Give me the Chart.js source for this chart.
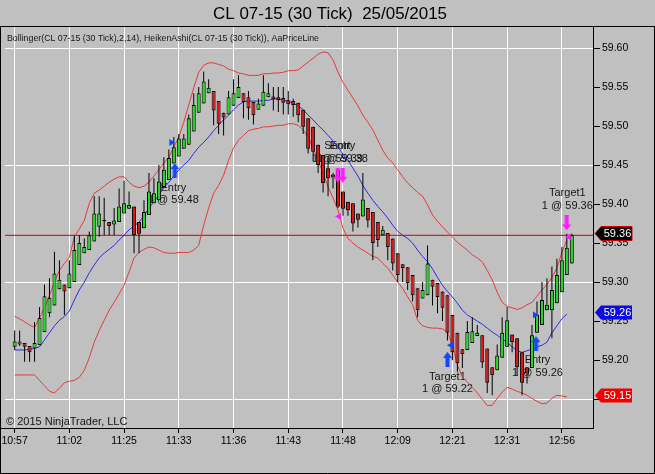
<!DOCTYPE html>
<html>
<head>
<meta charset="utf-8">
<script src="https://cdn.jsdelivr.net/npm/chart.js@4.4.1/dist/chart.umd.min.js"></script>
<style>
  html, body { margin: 0; padding: 0; background: #c0c0c0; }
  #wrap { width: 655px; height: 474px; }
</style>
</head>
<body>
<div id="wrap"><canvas id="chart" width="655" height="474"></canvas></div>
<script>
// Heiken Ashi candles, one per 30-tick bar
const haOpen = [
  59.217, 59.220, 59.222, 59.218, 59.215, 59.219, 59.236, 59.260, 59.270, 59.291,
  59.297, 59.292, 59.300, 59.322, 59.337, 59.341, 59.352, 59.371, 59.380, 59.377,
  59.374, 59.377, 59.388, 59.394, 59.397, 59.377, 59.369, 59.386, 59.401, 59.405,
  59.422, 59.431, 59.452, 59.461, 59.471, 59.476, 59.493, 59.517, 59.529, 59.542,
  59.545, 59.532, 59.517, 59.515, 59.526, 59.536, 59.542, 59.537, 59.531, 59.521,
  59.526, 59.537, 59.538, 59.537, 59.536, 59.533, 59.532, 59.530, 59.521, 59.510,
  59.499, 59.476, 59.463, 59.446, 59.438, 59.444, 59.416, 59.403, 59.401, 59.388,
  59.384, 59.395, 59.390, 59.377, 59.360, 59.363, 59.356, 59.337, 59.323, 59.319,
  59.309, 59.292, 59.279, 59.283, 59.303, 59.299, 59.288, 59.283, 59.258, 59.235,
  59.214, 59.213, 59.222, 59.231, 59.232, 59.215, 59.191, 59.187, 59.203, 59.217,
  59.233, 59.228, 59.210, 59.191, 59.190, 59.235, 59.245, 59.264, 59.264, 59.273,
  59.287, 59.309, 59.324
];
const haClose = [
  59.224, 59.224, 59.217, 59.210, 59.222, 59.254, 59.282, 59.280, 59.311, 59.303,
  59.288, 59.311, 59.341, 59.350, 59.345, 59.360, 59.388, 59.388, 59.378, 59.372,
  59.379, 59.397, 59.401, 59.399, 59.360, 59.362, 59.390, 59.416, 59.414, 59.429,
  59.444, 59.459, 59.473, 59.484, 59.484, 59.510, 59.527, 59.542, 59.557, 59.549,
  59.520, 59.503, 59.511, 59.537, 59.542, 59.550, 59.531, 59.523, 59.514, 59.529,
  59.544, 59.542, 59.534, 59.533, 59.530, 59.528, 59.527, 59.514, 59.499, 59.471,
  59.467, 59.450, 59.427, 59.433, 59.434, 59.397, 59.394, 59.392, 59.375, 59.380,
  59.406, 59.379, 59.350, 59.354, 59.367, 59.345, 59.324, 59.309, 59.318, 59.299,
  59.283, 59.264, 59.290, 59.324, 59.294, 59.281, 59.267, 59.235, 59.210, 59.196,
  59.208, 59.236, 59.237, 59.235, 59.197, 59.171, 59.181, 59.206, 59.235, 59.251,
  59.223, 59.191, 59.171, 59.183, 59.232, 59.258, 59.277, 59.271, 59.290, 59.309,
  59.328, 59.344, 59.360
];
const haHigh = [
  59.238, 59.238, 59.222, 59.218, 59.249, 59.268, 59.297, 59.305, 59.339, 59.328,
  59.297, 59.328, 59.360, 59.360, 59.356, 59.365, 59.410, 59.410, 59.408, 59.377,
  59.395, 59.420, 59.430, 59.416, 59.397, 59.377, 59.405, 59.440, 59.433, 59.450,
  59.460, 59.470, 59.486, 59.490, 59.490, 59.515, 59.542, 59.550, 59.570, 59.560,
  59.545, 59.532, 59.517, 59.545, 59.560, 59.565, 59.542, 59.545, 59.531, 59.535,
  59.565, 59.555, 59.550, 59.550, 59.550, 59.545, 59.535, 59.530, 59.521, 59.510,
  59.499, 59.476, 59.463, 59.455, 59.440, 59.444, 59.416, 59.403, 59.401, 59.388,
  59.440, 59.395, 59.390, 59.377, 59.372, 59.363, 59.356, 59.337, 59.323, 59.319,
  59.309, 59.292, 59.300, 59.347, 59.303, 59.299, 59.288, 59.283, 59.258, 59.235,
  59.214, 59.250, 59.255, 59.245, 59.232, 59.215, 59.191, 59.220, 59.255, 59.268,
  59.233, 59.228, 59.210, 59.191, 59.245, 59.275, 59.300, 59.305, 59.320, 59.330,
  59.345, 59.362, 59.362
];
const haLow = [
  59.213, 59.218, 59.198, 59.198, 59.198, 59.219, 59.236, 59.255, 59.270, 59.291,
  59.258, 59.292, 59.300, 59.322, 59.337, 59.341, 59.352, 59.358, 59.360, 59.360,
  59.360, 59.377, 59.388, 59.394, 59.337, 59.337, 59.369, 59.386, 59.401, 59.405,
  59.422, 59.431, 59.452, 59.461, 59.471, 59.476, 59.493, 59.517, 59.529, 59.542,
  59.501, 59.490, 59.488, 59.515, 59.526, 59.536, 59.510, 59.508, 59.502, 59.521,
  59.526, 59.537, 59.520, 59.518, 59.515, 59.515, 59.512, 59.505, 59.490, 59.465,
  59.455, 59.440, 59.415, 59.410, 59.420, 59.395, 59.385, 59.385, 59.365, 59.370,
  59.384, 59.370, 59.328, 59.345, 59.360, 59.328, 59.315, 59.300, 59.300, 59.290,
  59.275, 59.255, 59.279, 59.283, 59.270, 59.260, 59.250, 59.225, 59.200, 59.185,
  59.190, 59.213, 59.222, 59.231, 59.190, 59.158, 59.155, 59.187, 59.203, 59.217,
  59.210, 59.180, 59.155, 59.170, 59.190, 59.235, 59.245, 59.264, 59.228, 59.273,
  59.287, 59.309, 59.324
];

// Bollinger(2,14)
const bbUpper = [
  59.256, 59.253, 59.249, 59.245, 59.242, 59.254, 59.267, 59.283, 59.300, 59.315,
  59.324, 59.332, 59.358, 59.368, 59.379, 59.401, 59.414, 59.418, 59.423, 59.428,
  59.432, 59.435, 59.435, 59.428, 59.423, 59.421, 59.423, 59.428, 59.436, 59.444,
  59.453, 59.460, 59.473, 59.486, 59.505, 59.527, 59.549, 59.569, 59.578, 59.581,
  59.581, 59.579, 59.577, 59.573, 59.571, 59.568, 59.567, 59.565, 59.565, 59.565,
  59.567, 59.567, 59.568, 59.568, 59.569, 59.571, 59.571, 59.572, 59.577, 59.582,
  59.587, 59.592, 59.595, 59.594, 59.585, 59.569, 59.556, 59.546, 59.536, 59.526,
  59.514, 59.505, 59.495, 59.482, 59.469, 59.459, 59.453, 59.444, 59.435, 59.427,
  59.421, 59.415, 59.410, 59.399, 59.386, 59.378, 59.371, 59.364, 59.358, 59.351,
  59.346, 59.341, 59.335, 59.331, 59.326, 59.315, 59.303, 59.287, 59.274, 59.269,
  59.267, 59.265, 59.267, 59.271, 59.274, 59.282, 59.290, 59.297, 59.306, 59.318,
  59.338, 59.354, null
];
const bbMiddle = [
  59.213, 59.213, 59.213, 59.214, 59.215, 59.217, 59.226, 59.235, 59.244, 59.251,
  59.256, 59.263, 59.277, 59.290, 59.300, 59.312, 59.322, 59.331, 59.337, 59.342,
  59.347, 59.354, 59.360, 59.367, 59.372, 59.377, 59.385, 59.395, 59.403, 59.412,
  59.421, 59.428, 59.436, 59.444, 59.450, 59.456, 59.465, 59.473, 59.479, 59.486,
  59.494, 59.501, 59.508, 59.514, 59.521, 59.527, 59.531, 59.532, 59.532, 59.532,
  59.533, 59.533, 59.535, 59.535, 59.533, 59.532, 59.529, 59.526, 59.521, 59.514,
  59.508, 59.501, 59.495, 59.488, 59.481, 59.473, 59.464, 59.456, 59.446, 59.436,
  59.424, 59.414, 59.405, 59.397, 59.390, 59.382, 59.373, 59.365, 59.360, 59.356,
  59.350, 59.341, 59.333, 59.326, 59.317, 59.306, 59.296, 59.288, 59.281, 59.273,
  59.264, 59.258, 59.254, 59.250, 59.246, 59.241, 59.236, 59.232, 59.227, 59.223,
  59.217, 59.212, 59.210, 59.212, 59.214, 59.217, 59.219, 59.223, 59.235, 59.244,
  59.253, 59.259, null
];
const bbLower = [
  59.181, 59.181, 59.181, 59.181, 59.181, 59.174, 59.167, 59.160, 59.158, 59.164,
  59.171, 59.173, 59.174, 59.178, 59.187, 59.203, 59.223, 59.238, 59.251, 59.264,
  59.274, 59.285, 59.296, 59.313, 59.331, 59.338, 59.342, 59.345, 59.344, 59.341,
  59.338, 59.337, 59.337, 59.338, 59.338, 59.338, 59.341, 59.347, 59.373, 59.395,
  59.414, 59.424, 59.437, 59.456, 59.472, 59.482, 59.488, 59.494, 59.496, 59.497,
  59.499, 59.499, 59.500, 59.501, 59.501, 59.503, 59.503, 59.501, 59.495, 59.486,
  59.472, 59.456, 59.440, 59.422, 59.408, 59.392, 59.369, 59.356, 59.350, 59.345,
  59.341, 59.337, 59.333, 59.331, 59.324, 59.318, 59.309, 59.300, 59.292, 59.281,
  59.271, 59.251, 59.244, 59.242, 59.241, 59.241, 59.240, 59.236, 59.219, 59.194,
  59.178, 59.172, 59.165, 59.158, 59.150, 59.142, 59.142, 59.151, 59.159, 59.165,
  59.163, 59.160, 59.158, 59.155, 59.151, 59.147, 59.144, 59.145, 59.151, 59.155,
  59.154, 59.153, null
];

// x axis: time labels sit on every 11th bar
const tickBars = [0, 11, 22, 33, 44, 55, 66, 77, 88, 99, 110];
const timeLabels = ["10:57", "11:02", "11:25", "11:33", "11:36", "11:43", "11:48", "12:09", "12:21", "12:31", "12:56"];

// y axis
const priceTicks = [59.15, 59.20, 59.25, 59.30, 59.35, 59.40, 59.45, 59.50, 59.55, 59.60];
const priceGrid = [59.15, 59.30, 59.45, 59.60];

// strategy markers
const upArrowBar = [32.2, 87.0, 104.8];
const upArrowPrice = [59.443, 59.201, 59.221];
const downArrowBar = [64.96, 65.96, 110.96];
const downArrowPrice = [59.437, 59.437, 59.376];
const buyFillBar = [31.5, 104.6];
const buyFillPrice = [59.479, 59.258];
const exitFillBar = [87.7];
const exitFillPrice = [59.219];
const sellFillBar = [65.2, 111.4];
const sellFillPrice = [59.384, 59.358];

// order labels
const noteText = [
  ["Entry", "1 @ 59.48"],
  ["Short", "1 @ 59.39"],
  ["Entry", "1 @ 59.38"],
  ["Target1", "1 @ 59.22"],
  ["Entry", "1 @ 59.26"],
  ["Target1", "1 @ 59.36"]
];
const noteBar = [31.9, 64.9, 65.9, 87.0, 105.1, 111.1];
const notePrice = [59.421, 59.474, 59.474, 59.179, 59.200, 59.414];

const FONT = '"Liberation Sans", Arial, sans-serif';
const xMin = -1.94, xMax = 116.26;
const lastBar = haClose.length - 1;
const lastPrice = haClose[lastBar];

function makeArrow(color, up) {
    const c = document.createElement("canvas");
    c.width = 9;
    c.height = 15;
    const g = c.getContext("2d");
    g.fillStyle = color;
    g.beginPath();
    if (up) {
        g.moveTo(4.5, 0); g.lineTo(9, 6); g.lineTo(6.5, 6); g.lineTo(6.5, 15);
        g.lineTo(2.5, 15); g.lineTo(2.5, 6); g.lineTo(0, 6);
    } else {
        g.moveTo(4.5, 15); g.lineTo(9, 9); g.lineTo(6.5, 9); g.lineTo(6.5, 0);
        g.lineTo(2.5, 0); g.lineTo(2.5, 9); g.lineTo(0, 9);
    }
    g.closePath();
    g.fill();
    return c;
}

const pts = (xs, ys) => xs.map((x, i) => ({ x: x, y: ys[i] }));
const series = (arr) => arr.map((v, i) => ({ x: i, y: v }));

const wicks = haHigh.map((h, i) => ({ x: i, y: [haLow[i], h] }));
const bodies = haOpen.map((o, i) => ({ x: i, y: [o, haClose[i]] }));
const bodyColors = haOpen.map((o, i) => (haClose[i] >= o ? "#22dc22" : "#dc1414"));

// texts drawn under the candles
const notesPlugin = {
    id: "notes",
    beforeDatasetsDraw(chart) {
        const { ctx, chartArea } = chart;
        const x = chart.scales.x, y = chart.scales.y;
        ctx.save();
        ctx.fillStyle = "#151515";
        ctx.font = "11px " + FONT;
        ctx.textAlign = "center";
        ctx.textBaseline = "middle";
        noteText.forEach((lines, k) => {
            const px = x.getPixelForValue(noteBar[k]);
            const py = y.getPixelForValue(notePrice[k]);
            lines.forEach((t, j) => ctx.fillText(t, px, py + j * 12.5));
        });
        ctx.textAlign = "left";
        ctx.fillText("\u00a9 2015 NinjaTrader, LLC", chartArea.left + 1, chartArea.bottom - 6);
        ctx.font = "9px " + FONT;
        ctx.fillText("Bollinger(CL 07-15 (30 Tick),2,14), HeikenAshi(CL 07-15 (30 Tick)), AaPriceLine",
            chartArea.left + 2, chartArea.top + 12, 312);
        ctx.restore();
    }
};

// title, frame and price boxes on the axis
const framePlugin = {
    id: "frame",
    afterDraw(chart) {
        const { ctx, chartArea } = chart;
        const y = chart.scales.y;
        const W = chart.width, H = chart.height;
        ctx.save();
        ctx.fillStyle = "#000";
        ctx.font = "17px " + FONT;
        ctx.textAlign = "center";
        ctx.textBaseline = "middle";
        ctx.fillText("CL 07-15 (30 Tick)  25/05/2015", 330, 14, 234);

        ctx.strokeStyle = "#000";
        ctx.lineWidth = 1;
        ctx.beginPath();
        ctx.moveTo(0, chartArea.top - 0.5); ctx.lineTo(W, chartArea.top - 0.5);
        ctx.moveTo(0.5, chartArea.top); ctx.lineTo(0.5, H);
        ctx.moveTo(W - 0.5, chartArea.top); ctx.lineTo(W - 0.5, H);
        ctx.moveTo(0, H - 0.5); ctx.lineTo(W, H - 0.5);
        ctx.moveTo(0, chartArea.bottom + 0.5); ctx.lineTo(chartArea.right, chartArea.bottom + 0.5);
        ctx.stroke();

        const marks = [
            { v: lastPrice, fill: "#000000", stroke: "#d00000" },
            { v: bbMiddle[lastBar - 1], fill: "#0a0ae6", stroke: null },
            { v: bbLower[lastBar - 1], fill: "#f00000", stroke: null }
        ];
        ctx.font = "11px " + FONT;
        marks.forEach((m) => {
            const py = Math.round(y.getPixelForValue(m.v)) - 1.5;
            const x0 = chartArea.right + 2, x1 = chartArea.right + 8, x2 = chartArea.right + 39;
            ctx.beginPath();
            ctx.moveTo(x0, py);
            ctx.lineTo(x1, py - 7);
            ctx.lineTo(x2, py - 7);
            ctx.lineTo(x2, py + 7);
            ctx.lineTo(x1, py + 7);
            ctx.closePath();
            ctx.fillStyle = m.fill;
            ctx.fill();
            if (m.stroke) {
                ctx.strokeStyle = m.stroke;
                ctx.stroke();
            }
            ctx.fillStyle = "#ffffff";
            ctx.fillText(m.v.toFixed(2), (x1 + x2) / 2 + 1, py + 0.5);
        });
        ctx.restore();
    }
};

const ctx = document.getElementById("chart").getContext("2d");
new Chart(ctx, {
    type: "bar",
    data: {
        datasets: [
            {
                type: "scatter", data: pts(upArrowBar, upArrowPrice),
                pointStyle: makeArrow("#1446ff", true), order: 0
            },
            {
                type: "scatter", data: pts(downArrowBar, downArrowPrice),
                pointStyle: makeArrow("#ff1eff", false), order: 0
            },
            {
                type: "scatter", data: pts(buyFillBar, buyFillPrice),
                pointStyle: "triangle", rotation: 90, pointRadius: 4,
                backgroundColor: "#1446ff", borderWidth: 0, order: 0
            },
            {
                type: "scatter", data: pts(exitFillBar, exitFillPrice),
                pointStyle: "triangle", rotation: 270, pointRadius: 4,
                backgroundColor: "#1446ff", borderWidth: 0, order: 0
            },
            {
                type: "scatter", data: pts(sellFillBar, sellFillPrice),
                pointStyle: "triangle", rotation: 270, pointRadius: 4,
                backgroundColor: "#ff1eff", borderWidth: 0, order: 0
            },
            {
                label: "bodies", data: bodies, backgroundColor: bodyColors,
                borderColor: "#000", borderWidth: 1, borderSkipped: false,
                barThickness: 4, grouped: false, inflateAmount: 0, order: 1
            },
            {
                label: "wicks", data: wicks, backgroundColor: "#000",
                borderWidth: 0, barThickness: 1, grouped: false, inflateAmount: 0, order: 2
            },
            {
                type: "line", data: series(bbUpper), borderColor: "#e43a3a",
                borderWidth: 1, pointRadius: 0, tension: 0, order: 3
            },
            {
                type: "line", data: series(bbMiddle), borderColor: "#2a2ae6",
                borderWidth: 1, pointRadius: 0, tension: 0, order: 3
            },
            {
                type: "line", data: series(bbLower), borderColor: "#e43a3a",
                borderWidth: 1, pointRadius: 0, tension: 0, order: 3
            },
            {
                type: "line", data: [{ x: xMin, y: lastPrice }, { x: xMax, y: lastPrice }],
                borderColor: "#cc0000", borderWidth: 1, pointRadius: 0, order: 3
            }
        ]
    },
    options: {
        responsive: false,
        animation: false,
        layout: { padding: { top: 27, left: 2, right: 0, bottom: 0 } },
        plugins: {
            legend: { display: false },
            tooltip: { enabled: false },
            title: { display: false }
        },
        scales: {
            x: {
                type: "linear",
                min: xMin,
                max: xMax,
                offset: false,
                grid: { offset: false, color: "#ffffff", tickLength: 5, tickColor: "#000" },
                border: { color: "#000" },
                ticks: {
                    autoSkip: false, maxRotation: 0, padding: 2, color: "#000",
                    font: { family: FONT, size: 10.5 },
                    callback: (v, i) => timeLabels[i]
                },
                afterBuildTicks: (s) => { s.ticks = tickBars.map((v) => ({ value: v })); },
                afterFit: (s) => { s.height = 46; s.paddingLeft = 0; s.paddingRight = 0; }
            },
            y: {
                position: "right",
                min: 59.113,
                max: 59.627,
                beginAtZero: false,
                grid: {
                    color: (c) => (priceGrid.some((g) => Math.abs(g - c.tick.value) < 1e-6) ? "#ffffff" : "rgba(0,0,0,0)"),
                    tickLength: 7,
                    tickColor: "#000"
                },
                border: { color: "#000" },
                ticks: {
                    padding: 2, color: "#000",
                    font: { family: FONT, size: 10.5 },
                    callback: (v) => Number(v).toFixed(2)
                },
                afterBuildTicks: (s) => { s.ticks = priceTicks.map((v) => ({ value: v })); },
                afterFit: (s) => { s.width = 62; s.paddingTop = 0; s.paddingBottom = 0; }
            }
        }
    },
    plugins: [notesPlugin, framePlugin]
});
</script>
</body>
</html>
